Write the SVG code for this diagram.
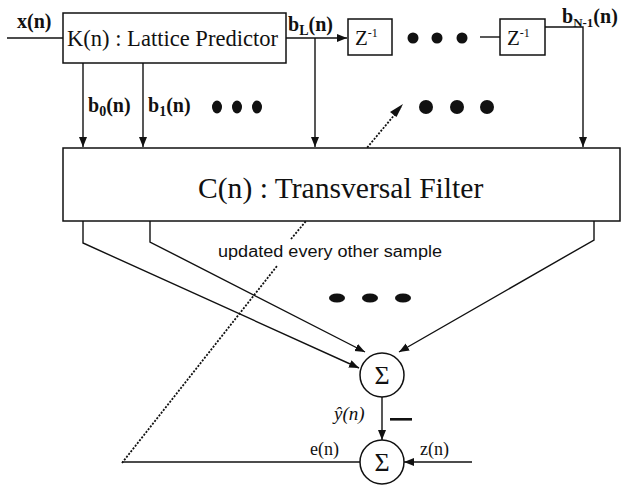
<svg xmlns="http://www.w3.org/2000/svg" width="622" height="485" viewBox="0 0 622 485">
<style>
.box{fill:#fff;stroke:#111;stroke-width:1.5}
.ln{fill:none;stroke:#111;stroke-width:1.4}
.dot{fill:none;stroke:#111;stroke-width:1.8;stroke-dasharray:2 1.5}
.serif{font-family:"Liberation Serif","Times New Roman",serif;fill:#111}
.bold{font-weight:bold}
.sans{font-family:"Liberation Sans",Arial,sans-serif;fill:#111}
.blob{fill:#111}
</style>
<defs>
<marker id="ah" markerWidth="11" markerHeight="9" refX="10" refY="4" orient="auto" markerUnits="userSpaceOnUse">
<path d="M0,0 L10,4 L0,8 z" fill="#111"/>
</marker>
</defs>
<rect width="622" height="485" fill="#fff"/>

<g id="connectors">
<path class="ln" d="M7,38 H63"/>
<path class="ln" d="M286,38 H347" marker-end="url(#ah)"/>
<path class="ln" d="M315,38 V147" marker-end="url(#ah)"/>
<path class="ln" d="M83,63 V147" marker-end="url(#ah)"/>
<path class="ln" d="M143,63 V147" marker-end="url(#ah)"/>
<path class="ln" d="M480,37 H500"/>
<path class="ln" d="M545,27 H583 V147" marker-end="url(#ah)"/>
<path class="ln" d="M83,221 V243 L359,368" marker-end="url(#ah)"/>
<path class="ln" d="M150,221 V242 L365,352" marker-end="url(#ah)"/>
<path class="ln" d="M594,221 V240 L399,352" marker-end="url(#ah)"/>
<path class="ln" d="M382,397 V440" marker-end="url(#ah)"/>
<path class="ln" d="M472,462 H404" marker-end="url(#ah)"/>
<path class="ln" d="M360,462 H122"/>
<path class="dot" d="M122,463 L277,266"/>
<path class="dot" d="M291,239 L401,107"/>
<path d="M403,104 L396.5,117 L390,112 z" fill="#111"/>
</g>

<g id="input-label">
<text class="serif bold" x="17" y="28" font-size="20">x(n)</text>
</g>

<g id="lattice">
<rect class="box" x="63" y="13" width="223" height="50"/>
<text class="serif" x="67" y="46" font-size="22.5" textLength="211" lengthAdjust="spacingAndGlyphs">K(n) : Lattice Predictor</text>
</g>

<g id="bL-label">
<text class="serif bold" x="288" y="31" font-size="20">b<tspan font-size="14" dy="4">L</tspan><tspan dy="-4">(n)</tspan></text>
</g>

<g id="z1">
<rect class="box" x="348" y="19" width="44" height="36"/>
<text class="serif" x="355" y="45" font-size="21">Z<tspan font-size="12" dy="-8">-1</tspan></text>
</g>

<g id="z-dots">
<circle class="blob" cx="413" cy="38" r="5.5"/>
<circle class="blob" cx="437" cy="38" r="5.5"/>
<circle class="blob" cx="462" cy="38" r="5.5"/>
</g>

<g id="z2">
<rect class="box" x="500" y="19" width="45" height="36"/>
<text class="serif" x="507" y="45" font-size="21">Z<tspan font-size="12" dy="-8">-1</tspan></text>
</g>

<g id="bN1-label">
<text class="serif bold" x="562" y="23" font-size="20">b<tspan font-size="13" dy="4">N-1</tspan><tspan dy="-4">(n)</tspan></text>
</g>

<g id="b0-label">
<text class="serif bold" x="88" y="112" font-size="20">b<tspan font-size="14" dy="4">0</tspan><tspan dy="-4">(n)</tspan></text>
</g>
<g id="b1-label">
<text class="serif bold" x="148" y="112" font-size="20">b<tspan font-size="14" dy="4">1</tspan><tspan dy="-4">(n)</tspan></text>
</g>
<g id="b-dots">
<ellipse class="blob" cx="217" cy="107" rx="5" ry="6.5"/>
<ellipse class="blob" cx="237" cy="107" rx="5" ry="6.5"/>
<ellipse class="blob" cx="257" cy="107" rx="5" ry="6.5"/>
</g>
<g id="mid-dots">
<circle class="blob" cx="426" cy="107" r="7"/>
<circle class="blob" cx="457" cy="107" r="7"/>
<circle class="blob" cx="487" cy="107" r="7"/>
</g>

<g id="transversal">
<rect class="box" x="63" y="148" width="557" height="73"/>
<text class="serif" x="198" y="198" font-size="29.6">C(n) : Transversal Filter</text>
</g>

<g id="update-label">
<text class="sans" x="218" y="257" font-size="16" textLength="224" lengthAdjust="spacingAndGlyphs">updated every other sample</text>
</g>

<g id="out-dots">
<ellipse class="blob" cx="337" cy="298" rx="8" ry="4.5"/>
<ellipse class="blob" cx="370" cy="298" rx="8" ry="4.5"/>
<ellipse class="blob" cx="403" cy="298" rx="8" ry="4.5"/>
</g>

<g id="sum1">
<circle class="box" cx="382" cy="375" r="22"/>
<text class="serif" x="382" y="384" font-size="26" text-anchor="middle">Σ</text>
</g>

<g id="yhat-label">
<text class="serif" x="334" y="420" font-size="19" font-style="italic">ŷ(n)</text>
<rect x="390" y="418" width="22" height="2.6" fill="#111"/>
</g>

<g id="sum2">
<circle class="box" cx="382" cy="462" r="22"/>
<text class="serif" x="382" y="471" font-size="26" text-anchor="middle">Σ</text>
</g>

<g id="e-label">
<text class="serif" x="310" y="455" font-size="18">e(n)</text>
</g>
<g id="z-label">
<text class="serif" x="420" y="455" font-size="18">z(n)</text>
</g>
</svg>
